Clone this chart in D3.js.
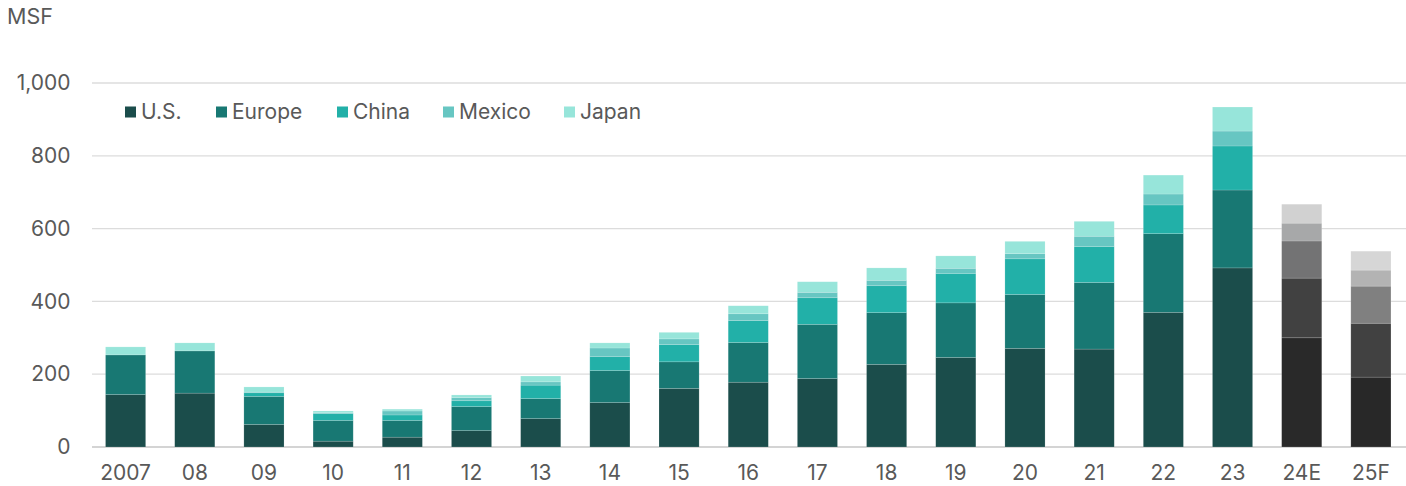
<!DOCTYPE html>
<html>
<head>
<meta charset="utf-8">
<script src="https://cdn.jsdelivr.net/npm/d3@7"></script>
<style>
  body { margin: 0; background: #fff; }
  svg text { font-family: Inter, 'Noto Sans', sans-serif; fill: #595959; }
</style>
</head>
<body>
<div id="chart"></div>
<script>
const years = ['2007', '08', '09', '10', '11', '12', '13', '14', '15', '16', '17', '18', '19', '20', '21', '22', '23', '24E', '25F'];
const regions = ['U.S.', 'Europe', 'China', 'Mexico', 'Japan'];

const usValues     = [144, 148, 62, 16, 27, 45, 78, 122, 161, 178, 188, 227, 246, 271, 269, 370, 492, 300, 192];
const europeValues = [109, 116, 77, 57, 46, 66, 55, 88, 73, 109, 149, 142, 150, 148, 183, 216, 214, 164, 148];
const chinaValues  = [0, 0, 10, 19, 15, 16, 37, 38, 47, 60, 73, 74, 81, 98, 99, 79, 121, 102, 102];
const mexicoValues = [0, 0, 2, 2, 11, 9, 9, 24, 16, 19, 15, 15, 14, 14, 28, 30, 41, 49, 44];
const japanValues  = [22, 22, 14, 5, 5, 7, 16, 14, 18, 22, 29, 34, 34, 34, 41, 52, 66, 52, 52];

const yTicks = [0, 200, 400, 600, 800, 1000];

const regionColors = ['#1b4d4b', '#187873', '#22b0a8', '#67c6c2', '#97e5da'];
// estimate / forecast years are drawn in greys
const greyColors = {
  '24E': ['#292929', '#414141', '#737374', '#a7a8a9', '#d1d1d1'],
  '25F': ['#282828', '#414141', '#808080', '#b3b3b3', '#d6d6d6'],
};

class StackedBarChart {
  constructor(_config) {
    this.config = {
      parentElement: _config.parentElement,
      containerWidth: 1406,
      containerHeight: 486,
      margin: { top: 83, right: 0.5, bottom: 39, left: 91 },
    };
    this.initVis();
  }

  initVis() {
    const vis = this;
    vis.width = vis.config.containerWidth - vis.config.margin.left - vis.config.margin.right;
    vis.height = vis.config.containerHeight - vis.config.margin.top - vis.config.margin.bottom;

    vis.svg = d3.select(vis.config.parentElement).append('svg')
      .attr('width', vis.config.containerWidth)
      .attr('height', vis.config.containerHeight);

    vis.chart = vis.svg.append('g')
      .attr('transform', `translate(${vis.config.margin.left},${vis.config.margin.top})`);

    vis.xScale = d3.scaleBand()
      .range([0, vis.width])
      .paddingInner(0.42)
      .paddingOuter(0.21);
    vis.yScale = d3.scaleLinear()
      .range([vis.height, 0]);

    // labels sit low, keep a hair of room under them for the font's descent
    vis.xAxis = d3.axisBottom(vis.xScale).tickSize(0).tickPadding(18.5);
    vis.yAxis = d3.axisLeft(vis.yScale)
      .tickValues(yTicks)
      .tickSize(0)
      .tickPadding(20.5)
      .tickFormat(d3.format(','));

    vis.gridG = vis.chart.append('g').attr('class', 'grid');
    vis.barsG = vis.chart.append('g').attr('class', 'bars');
    vis.xAxisG = vis.chart.append('g')
      .attr('class', 'axis x-axis')
      .attr('transform', `translate(0,${vis.height})`);
    vis.yAxisG = vis.chart.append('g').attr('class', 'axis y-axis');

    vis.svg.append('text')
      .attr('x', 7)
      .attr('y', 23.5)
      .style('font-size', '21.5px')
      .text('MSF');

    vis.legendG = vis.svg.append('g').attr('class', 'legend');
  }

  updateVis() {
    const vis = this;
    const cols = [usValues, europeValues, chinaValues, mexicoValues, japanValues];
    vis.tableData = years.map((y, i) => {
      const row = { year: y };
      regions.forEach((r, j) => { row[r] = cols[j][i]; });
      return row;
    });
    vis.series = d3.stack().keys(regions)(vis.tableData);

    vis.xScale.domain(years);
    vis.yScale.domain([0, 1000]);
    vis.renderVis();
  }

  renderVis() {
    const vis = this;

    // gridlines
    vis.gridG.selectAll('line')
      .data(yTicks)
      .join('line')
      .attr('x1', 1)
      .attr('x2', vis.width + 1)
      .attr('y1', (d) => vis.yScale(d))
      .attr('y2', (d) => vis.yScale(d))
      .attr('stroke', (d) => (d === 0 ? '#d4d4d4' : '#dcdcdc'))
      .attr('stroke-width', (d) => (d === 0 ? 2 : 1.3));

    vis.barsG.selectAll('.layer')
      .data(vis.series)
      .join('g')
      .attr('class', 'layer')
      .selectAll('rect')
      .data((s, j) => s.map((d) => ({ d, j })))
      .join('rect')
      .attr('x', ({ d }) => vis.xScale(d.data.year))
      .attr('y', ({ d }) => vis.yScale(d[1]))
      .attr('width', vis.xScale.bandwidth())
      .attr('height', ({ d }) => vis.yScale(d[0]) - vis.yScale(d[1]))
      .attr('fill', ({ d, j }) => (greyColors[d.data.year] ? greyColors[d.data.year][j] : regionColors[j]))
      .attr('stroke', 'rgba(255,255,255,0.25)')
      .attr('stroke-width', 0.6);

    vis.xAxisG.call(vis.xAxis);
    vis.yAxisG.call(vis.yAxis);
    vis.chart.selectAll('.axis .domain').remove();
    vis.xAxisG.selectAll('text').style('font-size', '21px');
    vis.yAxisG.selectAll('text').style('font-size', '21px');
    vis.chart.selectAll('.axis text').attr('fill', '#595959');

    // legend
    const legendX = [125, 216, 337, 443, 564];
    const items = vis.legendG.selectAll('g')
      .data(regions)
      .join('g')
      .attr('transform', (d, i) => `translate(${legendX[i]},106.5)`);
    items.append('rect')
      .attr('width', 11)
      .attr('height', 11)
      .attr('fill', (d, i) => regionColors[i]);
    items.append('text')
      .attr('x', 16)
      .attr('y', 12)
      .style('font-size', '21px')
      .text((d) => d);
  }
}

const chart = new StackedBarChart({ parentElement: '#chart' });
chart.updateVis();
</script>
</body>
</html>
